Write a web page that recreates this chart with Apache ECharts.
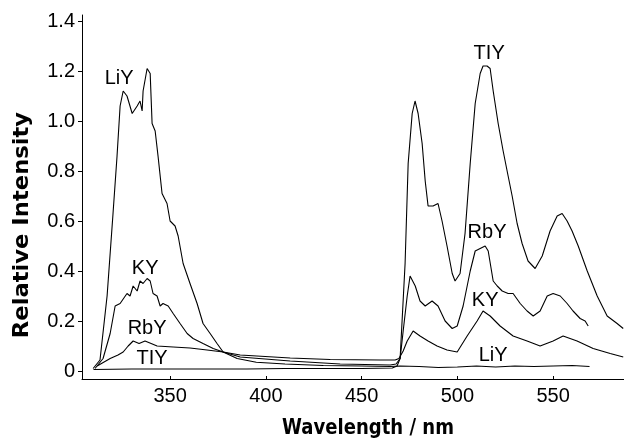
<!DOCTYPE html>
<html>
<head>
<meta charset="utf-8">
<script src="https://cdn.jsdelivr.net/npm/echarts@6/dist/echarts.min.js"></script>
<style>html,body{margin:0;padding:0;background:#fff}#c{width:624px;height:441px}</style>
</head>
<body>
<div id="c"></div>
<script>
// ---- data (wavelength in nm, relative intensity) ----
const liyWl = [309.8,313.4,317.1,320.2,322.3,323.9,325.5,327.5,330.2,332.8,334.3,335.4,335.9,338.0,339.6,340.6,342.2,343.7,345.8,348.4,350.0,352.6,354.2,356.8,360.4,364.1,367.2,370.9,374.5,377.7,385,395,410,430,450,465,470,480,490,500,510,520,530,540,550,560,569];
const liyI  = [0.01,0.044,0.30,0.63,0.86,1.06,1.12,1.10,1.03,1.06,1.08,1.04,1.12,1.21,1.19,0.99,0.96,0.86,0.71,0.67,0.60,0.58,0.54,0.43,0.35,0.27,0.19,0.15,0.11,0.076,0.05,0.035,0.028,0.022,0.02,0.018,0.02,0.018,0.014,0.016,0.02,0.016,0.02,0.018,0.02,0.022,0.018];

const kyWl = [310.8,315,318.7,321.3,323.9,327.5,329.1,330.7,332.8,334.3,335.9,338.0,339.6,341.1,343.2,344.8,346.3,349.0,351.6,355.2,358.9,362.0,367.2,372.5,377.7,386.6,412.7,433.6,459.7,467.5,469.5,471.7,473.8,476.9,480.5,484.7,489.4,494.6,499.9,505.1,510.3,513.4,517.1,522.3,529.1,536.4,543.2,550.0,555.2,562.5,570.9,579.8,586.6];
const kyI  = [0.01,0.05,0.15,0.26,0.27,0.31,0.30,0.34,0.32,0.36,0.35,0.37,0.36,0.31,0.30,0.26,0.27,0.26,0.23,0.19,0.15,0.13,0.11,0.09,0.076,0.064,0.052,0.046,0.044,0.044,0.05,0.08,0.12,0.16,0.14,0.12,0.10,0.084,0.076,0.14,0.20,0.24,0.22,0.18,0.14,0.12,0.10,0.12,0.14,0.12,0.09,0.07,0.056];

const rbyWl = [311.9,318.7,322.8,325.5,328.1,330.7,333.8,336.9,340.1,343.2,351.6,360.4,369.3,377.7,386.6,412.7,438.8,464.9,468.0,470.1,471.7,473.8,475.3,478.0,480.5,483.2,486.8,489.9,493.6,497.3,499.9,503.0,506.7,509.3,511.9,514.5,516.1,518.7,520.8,523.4,526.5,529.1,532.8,536.4,539.6,543.2,546.9,550.0,553.7,557.3,560.4,564.1,566.7,568.3];
const rbyI  = [0.02,0.05,0.064,0.076,0.10,0.12,0.11,0.12,0.11,0.10,0.096,0.092,0.084,0.076,0.056,0.04,0.028,0.024,0.028,0.05,0.16,0.30,0.38,0.34,0.28,0.26,0.28,0.26,0.20,0.17,0.18,0.26,0.40,0.48,0.49,0.50,0.48,0.36,0.34,0.32,0.31,0.31,0.27,0.24,0.22,0.24,0.30,0.31,0.30,0.27,0.24,0.21,0.20,0.18];

const tlyWl = [310,330,350,370,390,410,430,450,466,468.5,470.1,472.7,474.3,476.4,477.9,479.5,481.6,483.2,484.7,487.3,489.9,492.0,494.6,497.3,498.8,501.4,504.0,506.7,509.3,511.9,513.4,515.5,517.1,518.7,521.3,523.9,526.5,528.6,531.2,533.8,536.9,540.6,544.3,548.4,552.1,554.7,557.3,559.9,563.1,567.8,573.0,578.2,583.4,586.6];
const tlyI  = [0.006,0.008,0.008,0.008,0.008,0.01,0.01,0.01,0.012,0.02,0.05,0.43,0.83,1.03,1.08,1.03,0.91,0.76,0.66,0.66,0.67,0.60,0.50,0.39,0.36,0.39,0.55,0.83,1.07,1.19,1.22,1.22,1.21,1.12,0.99,0.88,0.78,0.70,0.59,0.51,0.44,0.41,0.46,0.56,0.62,0.63,0.60,0.56,0.50,0.40,0.30,0.22,0.19,0.17];

const xTicks = [350,400,450,500,550];
const yTicks = [0,0.2,0.4,0.6,0.8,1.0,1.2,1.4];

// in-plot curve labels (text, wavelength, intensity)
const labelText = ['LiY','KY','RbY','TIY','TIY','RbY','KY','LiY'];
const labelWl   = [323.4,337,338,340.6,516.6,515.5,514.5,518.7];
const labelI    = [1.17,0.41,0.17,0.052,1.27,0.556,0.284,0.064];

const xTitle = 'Wavelength / nm';
const yTitle = 'Relative Intensity';

function zip(a,b){return a.map((v,i)=>[v,b[i]]);}

const chart = echarts.init(document.getElementById('c'), null, {renderer:'canvas'});
const lineStyle = {color:'#000', width:1.1};
function mk(name, wl, it){
  return {name, type:'line', data:zip(wl,it), showSymbol:false, symbol:'none',
    lineStyle, itemStyle:{color:'#000'}, animation:false, silent:true};
}
const FONT = 'Liberation Sans, Arial, Helvetica, sans-serif';
const TFONT = '"DejaVu Sans", sans-serif';
chart.setOption({
  backgroundColor:'#fff',
  animation:false,
  grid:{left:82, right:0, top:15, bottom:62, containLabel:false},
  xAxis:{type:'value', min:304, max:587,
    axisLine:{show:true, onZero:false, lineStyle:{color:'#000', width:1}},
    axisTick:{show:true, inside:true, length:3, customValues:xTicks, lineStyle:{color:'#000'}},
    axisLabel:{customValues:xTicks, color:'#000', fontSize:20, fontFamily:FONT, margin:7},
    splitLine:{show:false}},
  yAxis:{type:'value', min:-0.032, max:1.424,
    axisLine:{show:true, onZero:false, lineStyle:{color:'#000', width:1}},
    axisTick:{show:true, inside:false, length:4, customValues:yTicks, lineStyle:{color:'#000'}},
    axisLabel:{customValues:yTicks, color:'#000', fontSize:20, fontFamily:FONT, margin:7,
      formatter:v=> Math.abs(v)<1e-9 ? '0' : v.toFixed(1)},
    splitLine:{show:false}},
  series:[mk('LiY',liyWl,liyI), mk('KY',kyWl,kyI), mk('RbY',rbyWl,rbyI), mk('TlY',tlyWl,tlyI)]
});

const g = labelText.map((t,i)=>{
  const p = chart.convertToPixel({gridIndex:0},[labelWl[i],labelI[i]]);
  return {type:'text', x:p[0], y:p[1], style:{text:t, fill:'#000', font:'20px '+FONT, align:'center', verticalAlign:'middle'}, silent:true};
});
g.push({type:'text', x:368, y:428, scaleX:0.82, style:{text:xTitle, fill:'#000', font:'bold 22px '+TFONT, align:'center', verticalAlign:'middle'}});
g.push({type:'text', x:22, y:225, rotation:Math.PI/2, scaleX:1.03, style:{text:yTitle, fill:'#000', font:'bold 22px '+TFONT, align:'center', verticalAlign:'middle'}});
chart.setOption({graphic:g});
</script>
</body>
</html>
